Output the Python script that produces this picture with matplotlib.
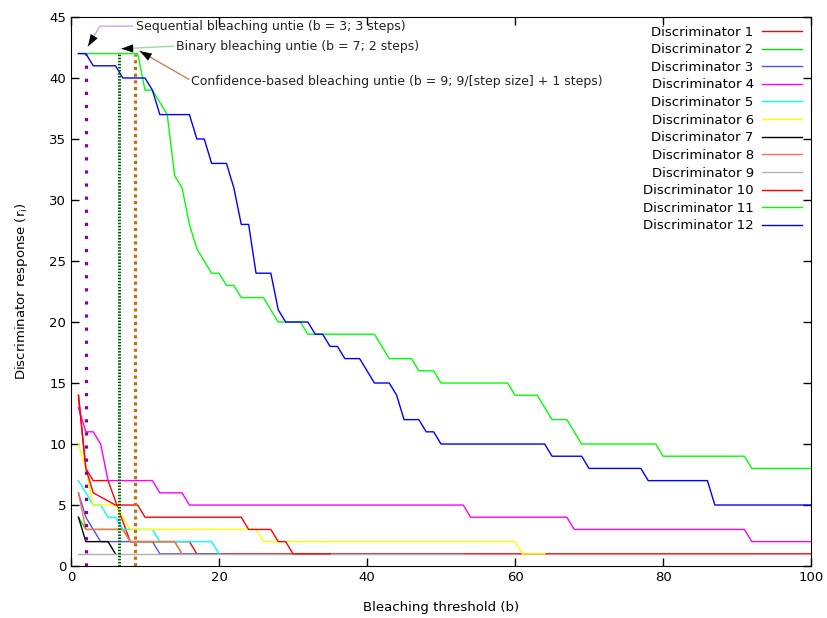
import matplotlib
matplotlib.use('Agg')
import matplotlib.pyplot as plt

# b = 1..100 for the two large discriminators
b_all = list(range(1, 101))
disc11 = [42, 42, 42, 42, 42, 42, 42, 42, 42, 39,
          39, 38, 37, 32, 31, 28, 26, 25, 24, 24,
          23, 23, 22, 22, 22, 22, 21, 20, 20, 20,
          20, 19, 19, 19, 19, 19, 19, 19, 19, 19,
          19, 18, 17, 17, 17, 17, 16, 16, 16, 15,
          15, 15, 15, 15, 15, 15, 15, 15, 15, 14,
          14, 14, 14, 13, 12, 12, 12, 11, 10, 10,
          10, 10, 10, 10, 10, 10, 10, 10, 10, 9,
          9, 9, 9, 9, 9, 9, 9, 9, 9, 9,
          9, 8, 8, 8, 8, 8, 8, 8, 8, 8]
disc12 = [42, 42, 41, 41, 41, 41, 40, 40, 40, 40,
          39, 37, 37, 37, 37, 37, 35, 35, 33, 33,
          33, 31, 28, 28, 24, 24, 24, 21, 20, 20,
          20, 20, 19, 19, 18, 18, 17, 17, 17, 16,
          15, 15, 15, 14, 12, 12, 12, 11, 11, 10,
          10, 10, 10, 10, 10, 10, 10, 10, 10, 10,
          10, 10, 10, 10, 9, 9, 9, 9, 9, 8,
          8, 8, 8, 8, 8, 8, 8, 7, 7, 7,
          7, 7, 7, 7, 7, 7, 5, 5, 5, 5,
          5, 5, 5, 5, 5, 5, 5, 5, 5, 5]

# small discriminators: (b, response) where the line changes
d1_b = [1, 2, 3, 5, 8, 16, 17, 100]
d1_v = [14, 8, 7, 7, 2, 2, 1, 1]
d2_b = [1, 2, 7, 8, 14, 15]
d2_v = [4, 3, 3, 2, 2, 1]
d3_b = [1, 2, 3, 4, 11, 12, 21]
d3_v = [6, 4, 3, 2, 2, 1, 1]
d4_b = [1, 2, 3, 4, 5, 11, 12, 15, 16, 53, 54, 67, 68, 91, 92, 100]
d4_v = [13, 11, 11, 10, 7, 7, 6, 6, 5, 5, 4, 4, 3, 3, 2, 2]
d5_b = [1, 2, 3, 4, 5, 6, 7, 11, 12, 19, 20]
d5_v = [7, 6, 5, 5, 4, 4, 3, 3, 2, 2, 1]
d6_b = [1, 2, 3, 6, 8, 25, 26, 60, 61, 64]
d6_v = [10, 8, 5, 5, 3, 3, 2, 2, 1, 1]
d7_b = [1, 2, 5, 6]
d7_v = [4, 2, 2, 1]
d8_b = [1, 2, 7, 8, 14, 15]
d8_v = [6, 3, 3, 2, 2, 1]
d9_b = [1, 53]
d9_v = [1, 1]
d10_b = [1, 2, 3, 6, 9, 10, 23, 24, 27, 28, 29, 30, 35]
d10_v = [14, 8, 6, 5, 5, 4, 4, 3, 3, 2, 2, 1, 1]

series = [(d1_b, d1_v), (d2_b, d2_v), (d3_b, d3_v), (d4_b, d4_v),
          (d5_b, d5_v), (d6_b, d6_v), (d7_b, d7_v), (d8_b, d8_v),
          (d9_b, d9_v), (d10_b, d10_v), (b_all, disc11), (b_all, disc12)]
labels = ['Discriminator %d' % i for i in range(1, 13)]
colors = ['#ff0000', '#00e000', '#5050ff', '#ff00ff', '#00ffff', '#ffff00',
          '#000000', '#ff7050', '#b0b0b0', '#ff0000', '#00ff00', '#0000ff']

plt.rcParams['font.family'] = 'DejaVu Sans'
plt.rcParams['font.size'] = 9.5

fig = plt.figure(figsize=(8.27, 6.18), dpi=100)
ax = fig.add_axes([0.0859, 0.0841, 0.8948, 0.8884])

for (x, y), lab, c in zip(series, labels, colors):
    ax.plot(x, y, color=c, lw=1.0, label=lab)

# untie markers
ax.plot([2, 2], [0, 42], color='#8000b0', lw=2.3, linestyle=(0, (1, 3.1)), zorder=5)
ax.plot([6.5, 6.5], [0, 42], color='#006000', lw=2.2, linestyle=(0, (0.5, 0.5)), zorder=5)
ax.plot([8.6, 8.6], [0, 42], color='#c07010', lw=2.3, linestyle=(0, (1, 1.1)), zorder=5)

txt = '#222222'
head = dict(arrowstyle='-|>,head_length=0.75,head_width=0.26', fc='black', ec='black',
            lw=0.5, shrinkA=0, shrinkB=0, mutation_scale=10)


def pointer(xs, ys, c, back):
    # coloured shaft, short black head at the last point
    ax.plot(xs, ys, color=c, lw=1, zorder=6)
    ax.annotate('', xy=(xs[-1], ys[-1]), xytext=back, textcoords='offset points',
                arrowprops=head, zorder=7)


ax.text(8.8, 44.25, 'Sequential bleaching untie (b = 3; 3 steps)', color=txt,
        ha='left', va='center', fontsize=9)
pointer([8.3, 3.9, 2.3], [44.25, 44.25, 42.6], '#c8a8e8', (4, 6.6))

ax.text(14.2, 42.6, 'Binary bleaching untie (b = 7; 2 steps)', color=txt,
        ha='left', va='center', fontsize=9)
pointer([13.8, 6.8], [42.6, 42.4], '#98e098', (7.7, 0.2))

ax.text(16.2, 39.7, 'Confidence-based bleaching untie (b = 9; 9/[step size] + 1 steps)',
        color=txt, ha='left', va='center', fontsize=9)
pointer([15.9, 9.3], [39.9, 42.2], '#c08850', (6.7, -3.9))

ax.set_xlim(0, 100)
ax.set_ylim(0, 45)
ax.set_xticks(range(0, 101, 20))
ax.set_yticks(range(0, 46, 5))
ax.tick_params(direction='in', top=True, right=True, length=6, width=1, labelsize=9.5)
ax.set_xlabel('Bleaching threshold (b)', labelpad=12)
ax.set_ylabel(r'Discriminator response ($\mathregular{r_i}$)', labelpad=14)

ax.legend(loc='upper right', frameon=False, markerfirst=False, handlelength=3.1,
          labelspacing=0.35, borderaxespad=0.25, handletextpad=0.6)

fig.savefig('out.png', dpi=100)
